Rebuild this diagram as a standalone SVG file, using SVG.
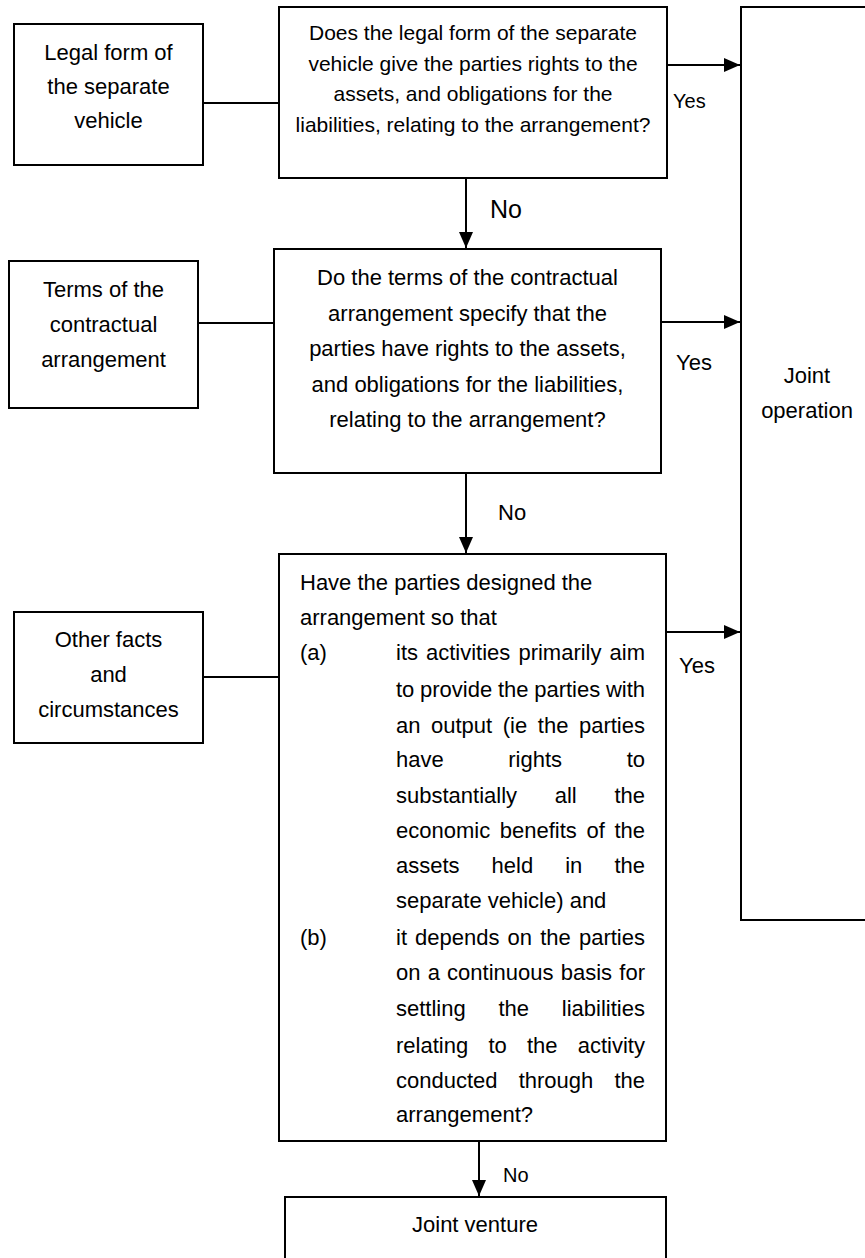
<svg xmlns="http://www.w3.org/2000/svg" width="865" height="1258" viewBox="0 0 865 1258">
<style>
.box{fill:#fff;stroke:#000;stroke-width:2}
.ln{stroke:#000;stroke-width:2;fill:none}
text{font-family:"Liberation Sans",Arial,sans-serif;font-size:22px;fill:#000}
.c{text-anchor:middle}
.e{text-anchor:end}
.q1{font-size:21px}
</style>
<defs>
<marker id="ah" markerUnits="userSpaceOnUse" markerWidth="16" markerHeight="14" refX="16" refY="7" orient="auto">
<path d="M0,0 L16,7 L0,14 Z" fill="#000"/>
</marker>
</defs>
<rect width="865" height="1258" fill="#fff"/>

<g id="connectors">
<line class="ln" x1="203" y1="103" x2="279" y2="103"/>
<line class="ln" x1="198" y1="323" x2="274" y2="323"/>
<line class="ln" x1="203" y1="677" x2="279" y2="677"/>
<line class="ln" x1="667" y1="65" x2="740" y2="65" marker-end="url(#ah)"/>
<line class="ln" x1="661" y1="322" x2="740" y2="322" marker-end="url(#ah)"/>
<line class="ln" x1="667" y1="632" x2="740" y2="632" marker-end="url(#ah)"/>
<line class="ln" x1="466" y1="178" x2="466" y2="248" marker-end="url(#ah)"/>
<line class="ln" x1="466" y1="473" x2="466" y2="553" marker-end="url(#ah)"/>
<line class="ln" x1="479" y1="1141" x2="479" y2="1196" marker-end="url(#ah)"/>
<text x="673" y="108" style="font-size:20px">Yes</text>
<text x="676" y="370">Yes</text>
<text x="679" y="673">Yes</text>
<text x="490" y="218" style="font-size:25px">No</text>
<text x="498" y="520">No</text>
<text x="503" y="1182" style="font-size:20px">No</text>
</g>

<g id="legal-form">
<rect class="box" x="14" y="24" width="189" height="141"/>
<text class="c" x="108.5" y="60">Legal form of</text>
<text class="c" x="108.5" y="94">the separate</text>
<text class="c" x="108.5" y="128">vehicle</text>
</g>

<g id="terms">
<rect class="box" x="9" y="261" width="189" height="147"/>
<text class="c" x="103.5" y="297">Terms of the</text>
<text class="c" x="103.5" y="332">contractual</text>
<text class="c" x="103.5" y="367">arrangement</text>
</g>

<g id="other-facts">
<rect class="box" x="14" y="612" width="189" height="131"/>
<text class="c" x="108.5" y="647">Other facts</text>
<text class="c" x="108.5" y="682">and</text>
<text class="c" x="108.5" y="717">circumstances</text>
</g>

<g id="q1">
<rect class="box" x="279" y="7" width="388" height="171"/>
<text class="c q1" x="473" y="40">Does the legal form of the separate</text>
<text class="c q1" x="473" y="70.7">vehicle give the parties rights to the</text>
<text class="c q1" x="473" y="101.3">assets, and obligations for the</text>
<text class="c q1" x="473" y="132">liabilities, relating to the arrangement?</text>
</g>

<g id="q2">
<rect class="box" x="274" y="249" width="387" height="224"/>
<text class="c" x="467.5" y="285">Do the terms of the contractual</text>
<text class="c" x="467.5" y="320.5">arrangement specify that the</text>
<text class="c" x="467.5" y="356">parties have rights to the assets,</text>
<text class="c" x="467.5" y="391.5">and obligations for the liabilities,</text>
<text class="c" x="467.5" y="427">relating to the arrangement?</text>
</g>

<g id="q3">
<rect class="box" x="279" y="554" width="387" height="587"/>
<text x="300" y="590">Have the parties designed the</text>
<text x="300" y="625">arrangement so that</text>
<text x="300" y="660">(a)</text>
<text y="660"><tspan x="396">its</tspan><tspan x="426">activities</tspan><tspan x="518.4">primarily</tspan></text>
<text class="e" x="645" y="660">aim</text>
<text y="697"><tspan x="396">to</tspan><tspan x="420">provide</tspan><tspan x="497.9">the</tspan><tspan x="534.2">parties</tspan></text>
<text class="e" x="645" y="697">with</text>
<text y="733"><tspan x="396">an</tspan><tspan x="431">output</tspan><tspan x="502.8">(ie</tspan><tspan x="537.8">the</tspan></text>
<text class="e" x="645" y="733">parties</text>
<text y="767"><tspan x="396">have</tspan><tspan x="508.3">rights</tspan></text>
<text class="e" x="645" y="767">to</text>
<text y="803"><tspan x="396">substantially</tspan><tspan x="554.7">all</tspan></text>
<text class="e" x="645" y="803">the</text>
<text y="838"><tspan x="396">economic</tspan><tspan x="499.8">benefits</tspan><tspan x="586.5">of</tspan></text>
<text class="e" x="645" y="838">the</text>
<text y="873"><tspan x="396">assets</tspan><tspan x="491.6">held</tspan><tspan x="565.2">in</tspan></text>
<text class="e" x="645" y="873">the</text>
<text x="396" y="908">separate vehicle) and</text>
<text x="300" y="945">(b)</text>
<text y="945"><tspan x="396">it</tspan><tspan x="415.1">depends</tspan><tspan x="507.6">on</tspan><tspan x="540.2">the</tspan></text>
<text class="e" x="645" y="945">parties</text>
<text y="980"><tspan x="396">on</tspan><tspan x="427.7">a</tspan><tspan x="447.1">continuous</tspan><tspan x="560.7">basis</tspan></text>
<text class="e" x="645" y="980">for</text>
<text y="1016"><tspan x="396">settling</tspan><tspan x="498.5">the</tspan></text>
<text class="e" x="645" y="1016">liabilities</text>
<text y="1053"><tspan x="396">relating</tspan><tspan x="488.4">to</tspan><tspan x="527">the</tspan></text>
<text class="e" x="645" y="1053">activity</text>
<text y="1088"><tspan x="396">conducted</tspan><tspan x="518.7">through</tspan></text>
<text class="e" x="645" y="1088">the</text>
<text x="396" y="1122">arrangement?</text>
</g>

<g id="joint-operation">
<rect class="box" x="741" y="7" width="132" height="913"/>
<text class="c" x="807" y="383">Joint</text>
<text class="c" x="807" y="418">operation</text>
</g>

<g id="joint-venture">
<rect class="box" x="285" y="1197" width="381" height="70"/>
<text class="c" x="475" y="1232">Joint venture</text>
</g>
</svg>
